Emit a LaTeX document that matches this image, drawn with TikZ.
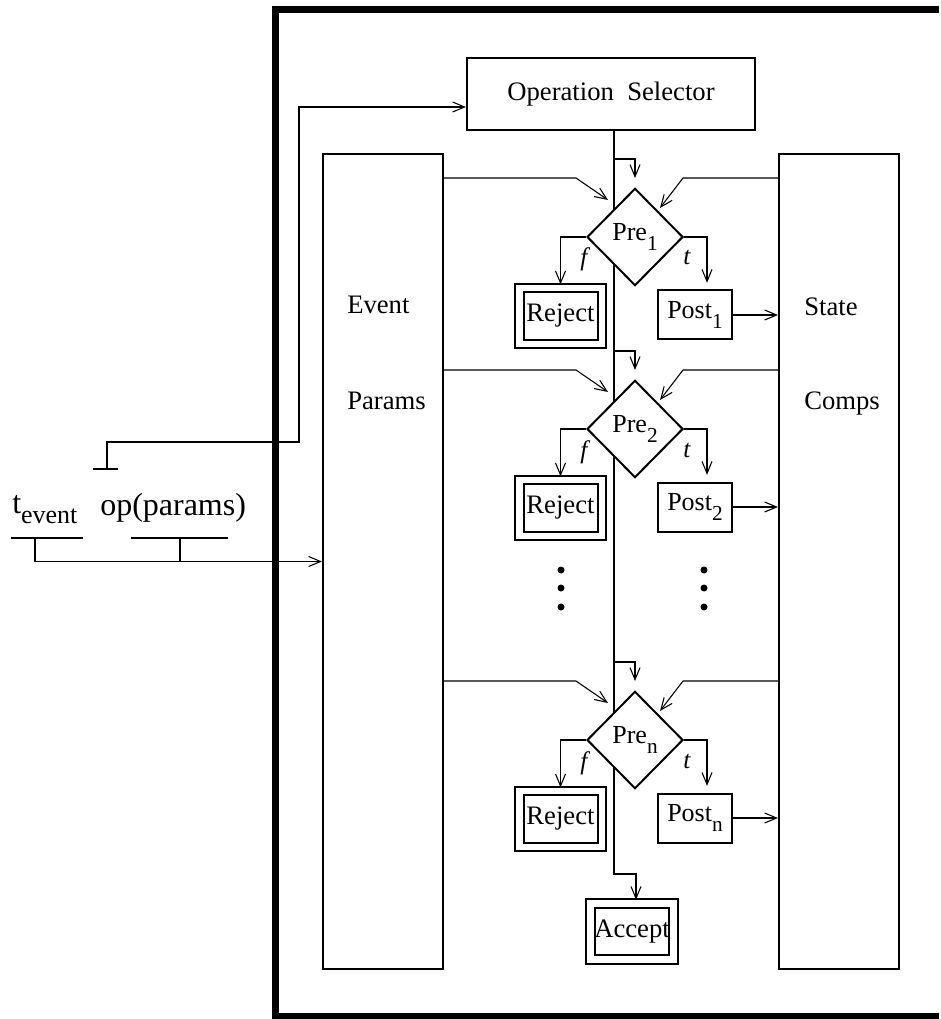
\documentclass[tikz,border=0pt]{standalone}
\usepackage{fontspec}
\setmainfont{Liberation Serif}
\usetikzlibrary{arrows.meta,shapes.geometric,calc}
\newcommand{\dn}[1]{\raisebox{-8pt}{\fontsize{16pt}{16pt}\selectfont #1}}

\begin{document}
\begin{tikzpicture}[x=0.75pt,y=-0.75pt,
  box/.style={draw,line width=1.5pt,inner sep=0pt},
  wire/.style={line width=0.8pt},
  arr/.style={wire,-{Straight Barb[length=9pt,width=7.5pt]}},
  test/.style={draw,fill=white,diamond,line width=1.5pt,inner sep=0pt,
    minimum width=72pt,minimum height=73pt,font=\fontsize{19.5pt}{19.5pt}\selectfont},
  fail/.style={box,double,double distance=5pt,minimum width=62pt,minimum height=42pt,
    font=\fontsize{20pt}{20pt}\selectfont},
  done/.style={box,minimum width=55.5pt,minimum height=36.75pt,
    font=\fontsize{19.5pt}{19.5pt}\selectfont},
  lab/.style={anchor=base west,inner sep=0pt,font=\fontsize{20pt}{20pt}\selectfont},
  branch/.style={anchor=base,inner sep=0pt,font=\fontsize{19pt}{19pt}\selectfont\itshape}]
  \useasboundingbox (0,0) rectangle (940,1019);
  % outer frame, open to the right
  \draw[line width=5.25pt] (939,10) -- (275.5,10) -- (275.5,1016) -- (939,1016);

  \node[box,minimum width=216pt,minimum height=54pt,font=\fontsize{20pt}{20pt}\selectfont]
    (opsel) at (611,94) {Operation\ \ Selector};
  \node[box,minimum width=90pt,minimum height=611pt] (evt) at (383,561.5) {};
  \node[box,minimum width=90pt,minimum height=611pt] (st) at (839,561.5) {};
  \node[lab] (evtA) at (347,314) {Event};
  \node[lab] (evtB) at (347,409) {Params};
  \node[lab] (stA) at (804,316) {State};
  \node[lab] (stB) at (804,409) {Comps};

  % main line through the tests
  \node[fail] (acc) at (632,931.5) {Accept};
  \coordinate (bend) at (614,874);
  \draw[arr,shorten >=2pt] (opsel.south -| bend) -- (bend) -| ([xshift=3pt]acc.north);

  \foreach \i/\y in {1/237,2/429,n/740}{
    \coordinate (tap\i) at (614,\y-78);
    \node[test] (pre\i) at (635,\y) {Pre\dn{\i}};
    \node[fail] (rej\i) at (560.5,\y+79) {Reject};
    \node[done] (post\i) at (695,\y+78) {Post\dn{\i}};
    \coordinate (hi\i) at ($(pre\i)+(0,-59)$);
    \draw[arr] (tap\i) -| ([yshift=7pt]pre\i.north);
    \draw[arr] (evt.east |- hi\i) -- ($(pre\i)+(-59,-59)$) -- ($(pre\i)+(-27,-37)$);
    \draw[arr] (st.west |- hi\i) -- ($(pre\i)+(48,-59)$) -- ($(pre\i)+(25,-29)$);
    \draw[arr,shorten >=2pt] (pre\i.west) -| (rej\i.north);
    \draw[arr,shorten >=5pt] (pre\i.east) -| ([xshift=9pt]post\i.north);
    \draw[arr] (post\i.east) -- (post\i.east -| st.west);
    \node[branch] (f\i) at ($(pre\i)+(-51,29)$) {f};
    \node[branch] (t\i) at ($(pre\i)+(52,28)$) {t};
  }
  % dots between the second and last test
  \foreach \x in {561,704}
    \foreach \y in {570,588,607}
      \fill (\x,\y) circle (3.5);

  % inputs on the left
  \node[anchor=base west,inner sep=0pt,font=\fontsize{24pt}{24pt}\selectfont] (tev) at (12,513)
    {t\raisebox{-8pt}{\fontsize{19.5pt}{19.5pt}\selectfont event}};
  \node[anchor=base west,inner sep=0pt,font=\fontsize{24pt}{24pt}\selectfont] (oppar) at (100,515)
    {op(params)};
  \coordinate (tbar) at (35,538);
  \coordinate (pbar) at (180,538);
  \coordinate (tee) at (107,469);
  \draw[wire] (11,538) -- (83,538);
  \draw[wire] (131,538) -- (228,538);
  \draw[arr] (tbar) |- (evt.west);
  \draw[wire] (pbar) -- (pbar |- evt.west);
  \draw[wire] (93,469) -- (118,469);
  \draw[arr] (tee) |- (299,442) |- ([yshift=-9.75pt]opsel.west);
\end{tikzpicture}
\end{document}
